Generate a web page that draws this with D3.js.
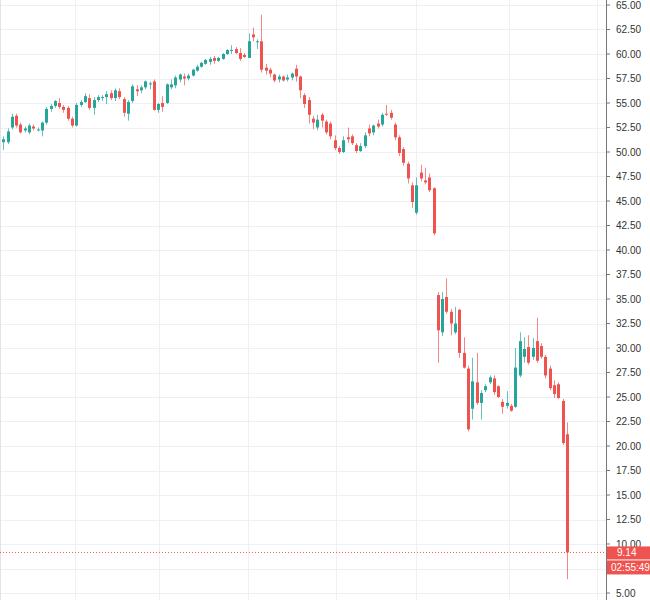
<!DOCTYPE html>
<html>
<head>
<meta charset="utf-8">
<script src="https://cdn.jsdelivr.net/npm/d3@7"></script>
<style>
body { margin: 0; background: #fff; }
text { font-family: "Liberation Sans", Arial, sans-serif; }
</style>
</head>
<body>
<script>
// candles as [open, high, low, close]
const candles = [
[51.0,51.6,50.2,51.3],[51.0,52.4,50.8,52.1],[52.5,53.9,52.3,53.6],[53.7,53.9,52.5,52.7],
[52.8,53.0,51.9,52.0],[52.2,52.6,52.0,52.4],[52.0,52.9,51.8,52.7],[52.6,52.8,52.2,52.4],
[52.3,52.5,52.1,52.3],[52.2,53.1,51.6,53.0],[53.0,54.6,52.8,54.4],[54.4,54.9,54.1,54.7],
[54.7,55.3,54.5,55.2],[55.0,55.5,54.4,54.6],[54.6,54.8,54.0,54.3],[54.5,54.7,53.2,53.4],
[53.4,53.6,52.5,52.7],[52.7,55.0,52.6,54.8],[54.8,55.3,54.6,55.1],[55.1,56.0,55.0,55.7],
[55.5,55.9,54.3,54.5],[54.5,55.6,53.8,55.3],[55.3,55.8,55.1,55.6],[55.6,55.8,55.2,55.6],
[55.6,56.2,54.9,55.9],[56.0,56.3,55.3,55.5],[55.5,56.5,55.2,56.3],[56.2,56.5,55.4,55.6],
[55.4,55.6,53.6,54.0],[53.9,55.3,53.2,55.1],[55.2,56.9,55.0,56.7],[56.4,56.8,55.7,56.2],
[56.3,56.8,56.0,56.6],[56.6,57.3,56.4,57.2],[57.0,57.2,56.4,57.0],[57.2,57.4,54.2,54.3],
[54.3,55.0,54.0,54.9],[55.0,55.7,54.1,54.6],[55.0,57.0,54.9,56.9],[56.6,57.4,56.4,56.9],
[56.8,57.8,56.5,57.6],[57.4,58.0,57.1,57.9],[57.7,58.0,56.8,57.5],[57.5,58.0,57.3,57.8],
[57.8,58.5,57.7,58.4],[58.3,58.9,58.2,58.7],[58.7,59.2,58.6,59.1],[59.0,59.5,58.9,59.4],
[59.2,59.7,58.9,59.5],[59.6,59.8,59.0,59.3],[59.3,59.7,59.2,59.6],[59.5,60.1,59.4,60.0],
[60.0,60.5,59.9,60.4],[60.4,60.9,60.0,60.4],[60.5,60.7,60.0,60.1],[60.1,60.6,59.3,59.5],
[59.9,60.1,59.6,59.7],[59.6,62.1,59.6,61.3],[62.0,62.7,61.3,61.7],[61.2,61.5,60.5,61.3],
[61.3,64.0,58.1,58.4],[58.6,59.0,57.9,58.3],[58.4,58.6,57.6,58.0],[57.9,58.0,57.1,57.3],
[57.4,57.9,57.1,57.7],[57.7,57.8,57.2,57.3],[57.4,57.9,57.2,57.6],[57.6,58.1,57.3,58.0],
[58.5,58.9,57.2,57.7],[57.7,57.8,55.5,56.3],[55.8,56.0,54.5,54.9],[55.3,55.6,52.9,53.8],
[53.4,53.7,52.3,53.0],[52.5,53.8,52.2,53.3],[53.8,54.0,52.5,53.2],[53.1,53.3,51.8,52.0],
[52.9,53.1,51.3,51.6],[51.2,51.7,50.2,50.4],[50.4,50.6,49.8,50.0],[50.0,51.6,49.9,51.2],
[51.5,52.5,50.9,51.3],[51.6,51.8,50.7,50.9],[50.7,50.9,49.9,50.1],[50.1,50.9,50.0,50.6],
[50.6,52.0,50.4,51.7],[52.4,52.8,51.6,51.9],[52.0,52.8,51.7,52.7],[52.9,53.3,52.4,52.6],
[52.8,54.0,52.6,53.8],[53.9,54.8,53.7,53.8],[54.0,54.3,53.3,53.5],[52.8,53.0,51.2,51.5],
[51.5,51.7,49.6,49.9],[50.3,50.5,48.6,48.9],[48.8,49.0,46.8,47.3],[46.6,46.9,44.3,44.9],
[43.8,47.4,43.6,46.6],[47.9,48.7,47.0,47.3],[47.1,48.4,46.7,46.9],[47.4,47.8,45.9,46.1],
[46.3,46.4,41.5,41.7],[35.4,35.7,28.5,31.8],[31.6,35.7,31.2,35.0],[35.2,37.1,33.5,33.7],
[33.7,34.0,31.3,32.5],[31.6,34.2,31.4,32.5],[33.9,34.0,29.0,29.5],[29.5,31.1,27.9,28.0],
[27.9,28.2,21.5,21.7],[23.8,29.0,22.7,26.6],[26.5,29.5,24.2,24.4],[24.4,25.7,22.7,25.4],
[25.7,26.3,25.5,26.1],[26.5,27.2,26.3,27.0],[26.9,27.2,25.2,25.5],[26.1,26.2,24.9,25.0],
[24.5,24.8,23.3,24.0],[24.1,25.6,23.8,24.4],[24.1,24.3,23.5,23.6],[24.0,30.0,23.9,28.0],
[27.2,31.6,27.0,30.7],[29.1,31.1,28.5,29.9],[30.1,31.3,28.3,28.5],[29.1,31.0,28.8,30.0],
[30.7,33.1,28.5,28.7],[30.2,30.5,28.9,29.1],[29.1,29.3,26.9,27.2],[27.9,28.2,25.7,25.9],
[26.2,26.7,24.9,25.3],[26.3,26.5,24.8,24.9],[24.6,24.8,20.1,20.3],[21.2,22.4,6.4,9.14]
];

// candle index positions of the vertical time grid lines
const timeGrid = [16.6, 36.3, 56.8, 77.4, 95.8, 117.6, 137.9];

// price ticks
const priceTicks = d3.range(5, 65.01, 2.5);

const lastPrice = 9.14;
const countdown = "02:55:49";

const W = 650, H = 600;
const AXIS_X = 606;
const UP = "#26a69a", DOWN = "#ef5350";

const svg = d3.select("body").append("svg")
	.attr("width", W)
	.attr("height", H);

let xScale = d3.scaleLinear().domain([0, candles.length - 1]).range([3.2, 567]);
let yScale = d3.scaleLinear().domain([5, 65]).range([593, 5]);

let yLast = yScale(lastPrice);

// grid
svg.selectAll("line.hgrid")
	.data(priceTicks)
	.enter().append("line")
	.attr("x1", 0).attr("x2", AXIS_X)
	.attr("y1", d => Math.round(yScale(d)) + 0.5)
	.attr("y2", d => Math.round(yScale(d)) + 0.5)
	.attr("stroke", "#edf0f4");

svg.selectAll("line.vgrid")
	.data(timeGrid)
	.enter().append("line")
	.attr("x1", d => Math.round(xScale(d)) + 0.5)
	.attr("x2", d => Math.round(xScale(d)) + 0.5)
	.attr("y1", 0).attr("y2", H)
	.attr("stroke", "#edf0f4");

// left frame
svg.append("line")
	.attr("x1", 0.5).attr("x2", 0.5).attr("y1", 0).attr("y2", H)
	.attr("stroke", "#e0e3eb");

// candles
let bars = svg.selectAll("g.candle")
	.data(candles)
	.enter().append("g")
	.attr("fill", d => d[3] >= d[0] ? UP : DOWN)
	.attr("stroke", d => d[3] >= d[0] ? UP : DOWN);

bars.append("line")
	.attr("x1", (d, i) => Math.round(xScale(i)) + 0.5)
	.attr("x2", (d, i) => Math.round(xScale(i)) + 0.5)
	.attr("y1", d => yScale(d[1]))
	.attr("y2", d => yScale(d[2]))
	.attr("stroke-opacity", 0.7);

bars.append("rect")
	.attr("x", (d, i) => Math.round(xScale(i)) - 1)
	.attr("width", 3)
	.attr("y", d => yScale(Math.max(d[0], d[3])))
	.attr("height", d => Math.max(1, Math.abs(yScale(d[0]) - yScale(d[3]))))
	.attr("stroke", "none");

// price axis
svg.append("line")
	.attr("x1", AXIS_X + 0.5).attr("x2", AXIS_X + 0.5)
	.attr("y1", 0).attr("y2", H)
	.attr("stroke", "#777");

// labels hidden behind the last-price boxes are skipped
svg.selectAll("g.ptick")
	.data(priceTicks)
	.enter().append("g")
	.each(function(d) {
		let g = d3.select(this);
		let y = yScale(d);
		g.append("line").attr("x1", AXIS_X).attr("x2", AXIS_X + 4)
			.attr("y1", y).attr("y2", y).attr("stroke", "#777");
		if (y > yLast - 4 && y < yLast + 26) return;
		g.append("text").attr("x", 616).attr("y", y + 3.5)
			.attr("font-size", 10).attr("fill", "#333")
			.text(d.toFixed(2));
	});

// last price line and labels
svg.append("line")
	.attr("x1", 0).attr("x2", AXIS_X)
	.attr("y1", yLast).attr("y2", yLast)
	.attr("stroke", DOWN).attr("stroke-dasharray", "1,2");

svg.append("rect").attr("x", AXIS_X + 1).attr("y", yLast - 6)
	.attr("width", 44).attr("height", 13).attr("fill", DOWN);
svg.append("text").attr("x", 617).attr("y", yLast + 3.5)
	.attr("font-size", 10).attr("fill", "#fff").text(lastPrice.toFixed(2));
svg.append("rect").attr("x", AXIS_X + 1).attr("y", yLast + 8)
	.attr("width", 44).attr("height", 14).attr("fill", DOWN);
svg.append("text").attr("x", 611).attr("y", yLast + 18.5)
	.attr("font-size", 10).attr("fill", "#fff").text(countdown);
</script>
</body>
</html>
